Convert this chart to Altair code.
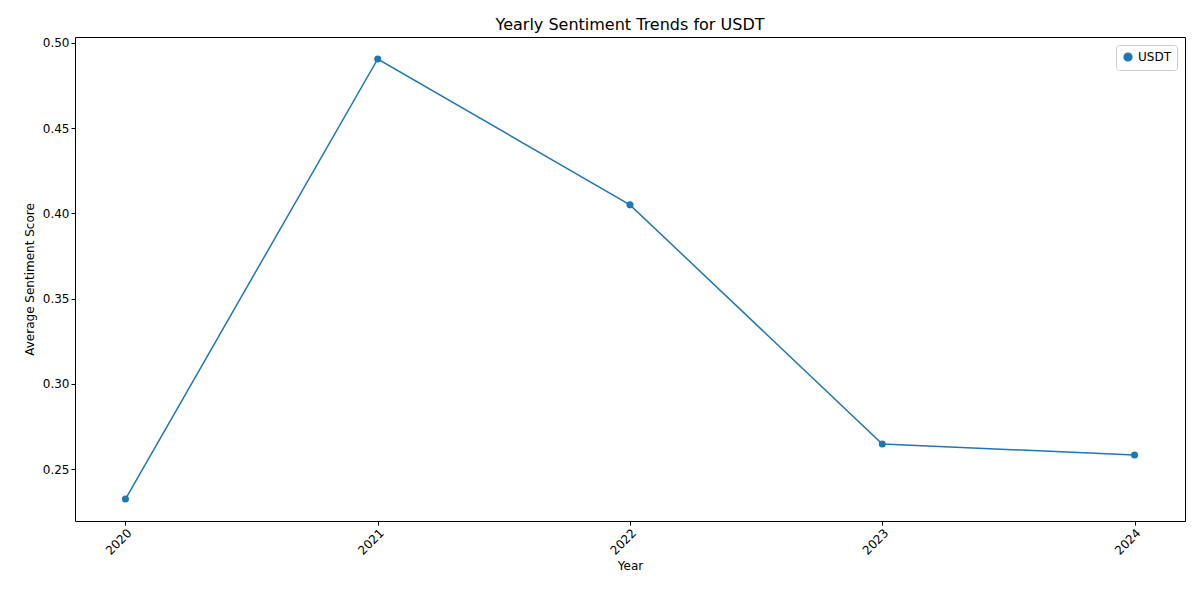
import pandas as pd
import altair as alt

years = [2020, 2021, 2022, 2023, 2024]
sentiment = [0.2324, 0.4906, 0.4050, 0.2647, 0.2582]
coin = ["USDT"] * 5

df = pd.DataFrame({"Year": years, "score": sentiment, "coin": coin})

x = alt.X("Year:Q", scale=alt.Scale(domain=[2019.8, 2024.2], nice=False, zero=False),
          axis=alt.Axis(values=years, format="d", labelAngle=-45, grid=False, title="Year",
                        labelAlign="right", labelBaseline="top", titlePadding=4))
y = alt.Y("score:Q", scale=alt.Scale(domain=[0.2195, 0.5035], nice=False, zero=False),
          axis=alt.Axis(values=[0.25, 0.30, 0.35, 0.40, 0.45, 0.50], format=".2f", grid=False,
                        title="Average Sentiment Score", titlePadding=6))
color = alt.Color("coin:N", scale=alt.Scale(range=["#1f77b4"]),
                  legend=alt.Legend(title=None, orient="top-right", symbolType="circle",
                                    strokeColor="#cccccc", padding=6, fillColor="white",
                                    labelFontSize=12, symbolSize=60, cornerRadius=3, offset=8))

line = alt.Chart(df).mark_line(strokeWidth=1.5).encode(x=x, y=y, color=color)
pts = alt.Chart(df).mark_point(filled=True, size=50, opacity=1).encode(x=x, y=y, color=color)

chart = (line + pts).properties(
    width=1110, height=484,
    title=alt.Title("Yearly Sentiment Trends for USDT", fontSize=16, fontWeight="normal",
                    font="DejaVu Sans"),
    autosize=alt.AutoSizeParams(type="none"),
    padding={"left": 67, "top": 29, "right": 7, "bottom": 71},
).configure_view(stroke="black", strokeWidth=1).configure_axis(
    labelFont="DejaVu Sans", titleFont="DejaVu Sans", labelFontSize=12, titleFontSize=12,
    titleFontWeight="normal", domain=False, tickColor="black", labelColor="black",
    titleColor="black", tickSize=4
).configure_legend(labelFont="DejaVu Sans")

chart.save("out.html", embed_options={"renderer": "svg", "actions": False})
